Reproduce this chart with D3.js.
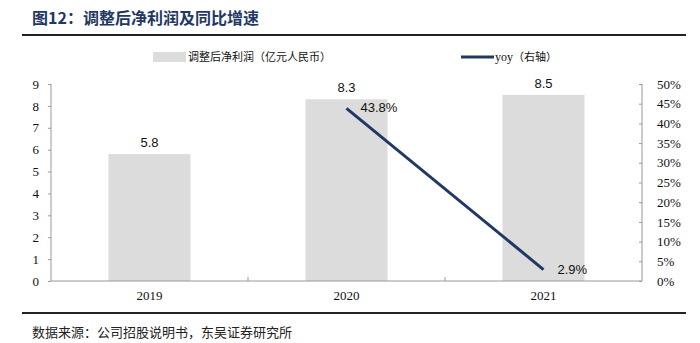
<!DOCTYPE html>
<html><head><meta charset="utf-8">
<script src="https://cdn.jsdelivr.net/npm/d3@7"></script>
<style>body{margin:0;background:#fff;}svg{display:block;}</style>
</head><body>
<svg id="c" width="700" height="343"></svg>
<script>
const categories = ["2019","2020","2021"];
const profit = [5.8, 8.3, 8.5];
const yoyYears = ["2020","2021"];
const yoy = [43.8, 2.9];
const leftTicks = [0,1,2,3,4,5,6,7,8,9];
const rightTicks = [0,5,10,15,20,25,30,35,40,45,50];

const svg = d3.select("#c");
const serif = "'Liberation Serif','Times New Roman',serif";
const sans = "'Liberation Sans',Arial,sans-serif";
const cjk = "'Noto Sans CJK SC',sans-serif";
const navy = "#1f3864";

// Title
svg.append("text").attr("x",32).attr("y",24).attr("font-family",cjk).attr("font-weight","bold")
  .attr("font-size",16).attr("fill",navy).text("图12：调整后净利润及同比增速");
svg.append("line").attr("x1",22).attr("x2",686).attr("y1",35).attr("y2",35).attr("stroke","#222").attr("stroke-width",2);
svg.append("line").attr("x1",22).attr("x2",686).attr("y1",313).attr("y2",313).attr("stroke","#222").attr("stroke-width",2);
svg.append("text").attr("x",32).attr("y",337).attr("font-family",cjk).attr("font-size",13).attr("fill","#222")
  .text("数据来源：公司招股说明书，东吴证券研究所");

const L=51, R=642, T=84, B=281;
const x = d3.scaleBand().domain(categories).range([L,R]).paddingInner(0.0).paddingOuter(0);
const yL = d3.scaleLinear().domain([0,9]).range([B,T]);
const yR = d3.scaleLinear().domain([0,50]).range([B,T]);
const bw = 82;

// bars
svg.selectAll("rect.bar").data(categories).enter().append("rect")
  .attr("x",d=>x(d)+x.bandwidth()/2-bw/2).attr("width",bw)
  .attr("y",(d,i)=>yL(profit[i])).attr("height",(d,i)=>B-yL(profit[i]))
  .attr("fill","#dcdcdc");
svg.selectAll("text.bl").data(categories).enter().append("text")
  .attr("x",d=>x(d)+x.bandwidth()/2).attr("y",(d,i)=>yL(profit[i])-7)
  .attr("text-anchor","middle").attr("font-family",sans).attr("font-size",13).attr("fill","#111")
  .text((d,i)=>profit[i].toFixed(1));

// axes
const axL = svg.append("g").attr("transform",`translate(${L},0)`)
  .call(d3.axisLeft(yL).tickValues(leftTicks).tickSize(3).tickPadding(9).tickFormat(d3.format("d")));
const axR = svg.append("g").attr("transform",`translate(${R},0)`)
  .call(d3.axisRight(yR).tickValues(rightTicks).tickSize(3).tickPadding(9).tickFormat(d=>d+"%"));
const axB = svg.append("g").attr("transform",`translate(0,${B})`)
  .call(d3.axisBottom(x).tickSize(0).tickPadding(10));
[axL,axR,axB].forEach(g=>{
  g.selectAll("path.domain").attr("stroke","#999");
  g.selectAll("line").attr("stroke","#999");
  g.selectAll("text").attr("font-family",serif).attr("font-size",13).attr("fill","#111");
});
axL.selectAll(".tick text").attr("x",-12).attr("text-anchor","end");
axR.selectAll(".tick text").attr("x",15);
axR.selectAll(".tick line").attr("x2",-3);
axL.select("path.domain").attr("d",`M0,${T}V${B}`);
axR.select("path.domain").attr("d",`M0,${T}V${B}`);
axB.select("path.domain").attr("d",`M${L},0H${R}`);
// category boundary ticks
svg.selectAll("line.bt").data(categories.slice(1)).enter().append("line")
  .attr("x1",d=>x(d)).attr("x2",d=>x(d)).attr("y1",B-4).attr("y2",B).attr("stroke","#999");

// line
const cx = d=>x(d)+x.bandwidth()/2;
const line = d3.line().x((d,i)=>cx(yoyYears[i])).y(d=>yR(d));
svg.append("path").datum(yoy).attr("d",line).attr("fill","none").attr("stroke",navy).attr("stroke-width",3);
svg.selectAll("text.yl").data(yoy).enter().append("text")
  .attr("x",(d,i)=>cx(yoyYears[i])+14).attr("y",(d,i)=>yR(d)+4)
  .attr("font-family",sans).attr("font-size",13).attr("fill","#111")
  .text(d=>d.toFixed(1)+"%");

// legend
svg.append("rect").attr("x",153).attr("y",52).attr("width",33).attr("height",10).attr("fill","#dcdcdc");
svg.append("text").attr("x",188).attr("y",61).attr("font-family",cjk).attr("font-size",11).attr("fill","#111")
  .text("调整后净利润（亿元人民币）");
svg.append("line").attr("x1",461).attr("x2",494).attr("y1",57).attr("y2",57).attr("stroke",navy).attr("stroke-width",3);
const lt = svg.append("text").attr("x",495).attr("y",61).attr("font-size",11).attr("fill","#111");
lt.append("tspan").attr("font-family",serif).attr("font-size",12).text("yoy");
lt.append("tspan").attr("font-family",cjk).text("（右轴）");
</script>
</body></html>
